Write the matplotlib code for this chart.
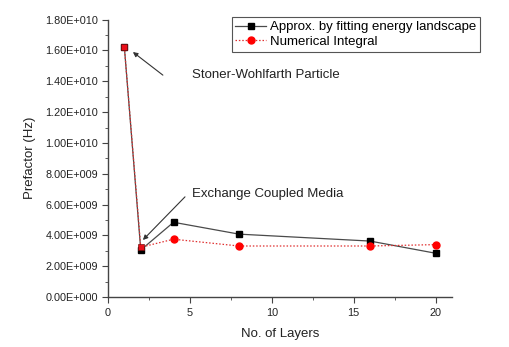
import matplotlib
matplotlib.use("Agg")
import matplotlib.pyplot as plt
from matplotlib.ticker import FuncFormatter, MultipleLocator
import math

plt.rcParams['font.family'] = ['Liberation Sans', 'DejaVu Sans']

layers = [1, 2, 4, 8, 16, 20]
approx = [1.62e10, 3.05e9, 4.85e9, 4.08e9, 3.63e9, 2.84e9]
numerical = [1.62e10, 3.23e9, 3.75e9, 3.31e9, 3.31e9, 3.40e9]
yticks = [0, 2e9, 4e9, 6e9, 8e9, 1e10, 1.2e10, 1.4e10, 1.6e10, 1.8e10]

fig = plt.figure(figsize=(5.09, 3.47), dpi=100)
ax = fig.add_axes([108/509, 1-297/347, (452-108)/509, (297-18)/347])

ax.plot(layers, approx, color='#4a4a4a', lw=0.9, marker='s', ms=4,
        mfc='black', mec='black', label='Approx. by fitting energy landscape', zorder=3)
ax.plot(layers, numerical, color='#e03030', lw=0.9, ls=(0, (1.2, 1.5)), marker='o', ms=5,
        mfc='red', mec='red', markevery=[2, 3, 4, 5], label='Numerical Integral', zorder=4)
ax.plot(layers[:2], numerical[:2], ls='none', marker='s', ms=5, mfc='#e8101a', mec='#7a1010',
        mew=0.5, zorder=5)

ax.set_xlim(0, 21)
ax.set_ylim(0, 1.8e10 * 1.006)
ax.set_yticks(yticks)
ax.yaxis.set_minor_locator(MultipleLocator(1e9))
ax.xaxis.set_major_locator(MultipleLocator(5))
ax.xaxis.set_minor_locator(MultipleLocator(2.5))

def fmt(v, pos):
    if v == 0:
        return '0.00E+000'
    e = int(math.floor(math.log10(abs(v)) + 1e-9))
    m = v / 10**e
    return f'{m:.2f}E+{e:03d}'
ax.yaxis.set_major_formatter(FuncFormatter(fmt))

for s in ['top', 'right']:
    ax.spines[s].set_visible(False)
for s in ['left', 'bottom']:
    ax.spines[s].set_color('#444444')
    ax.spines[s].set_linewidth(1.0)
ax.spines['left'].set_bounds(0, 1.8e10)

ax.tick_params(axis='both', which='major', direction='out', length=4, labelsize=7.8, color='#444444', labelcolor='#222222')
ax.tick_params(axis='both', which='minor', direction='out', length=2.5, color='#444444')
ax.tick_params(axis='x', pad=4)
ax.tick_params(axis='y', pad=3)

ax.set_xlabel('No. of Layers', fontsize=9.5, labelpad=7, color='#222222')
ax.set_ylabel('Prefactor (Hz)', fontsize=9.5, labelpad=7, color='#222222')

leg = ax.legend(loc='upper right', bbox_to_anchor=(480/509, 1-17/347), bbox_transform=fig.transFigure,
                fontsize=9.5, frameon=True, fancybox=False, edgecolor='#555555',
                handlelength=2.3, handletextpad=0.3, borderpad=0.3, labelspacing=0.2,
                borderaxespad=0, framealpha=1)
leg.get_frame().set_linewidth(0.8)

ax.text(5.12, 1.44e10, 'Stoner-Wohlfarth Particle', fontsize=9.5, color='#222222', va='center')
ax.annotate('', xy=(1.52, 1.59e10), xytext=(3.35, 1.44e10),
            arrowprops=dict(arrowstyle='-|>', color='#333333', lw=0.8, mutation_scale=7,
                            shrinkA=0, shrinkB=0))
ax.text(5.12, 6.7e9, 'Exchange Coupled Media', fontsize=9.5, color='#222222', va='center')
ax.annotate('', xy=(2.13, 3.7e9), xytext=(4.7, 6.5e9),
            arrowprops=dict(arrowstyle='-|>', color='#333333', lw=0.8, mutation_scale=7,
                            shrinkA=0, shrinkB=0))

fig.savefig('out.png', dpi=100)
